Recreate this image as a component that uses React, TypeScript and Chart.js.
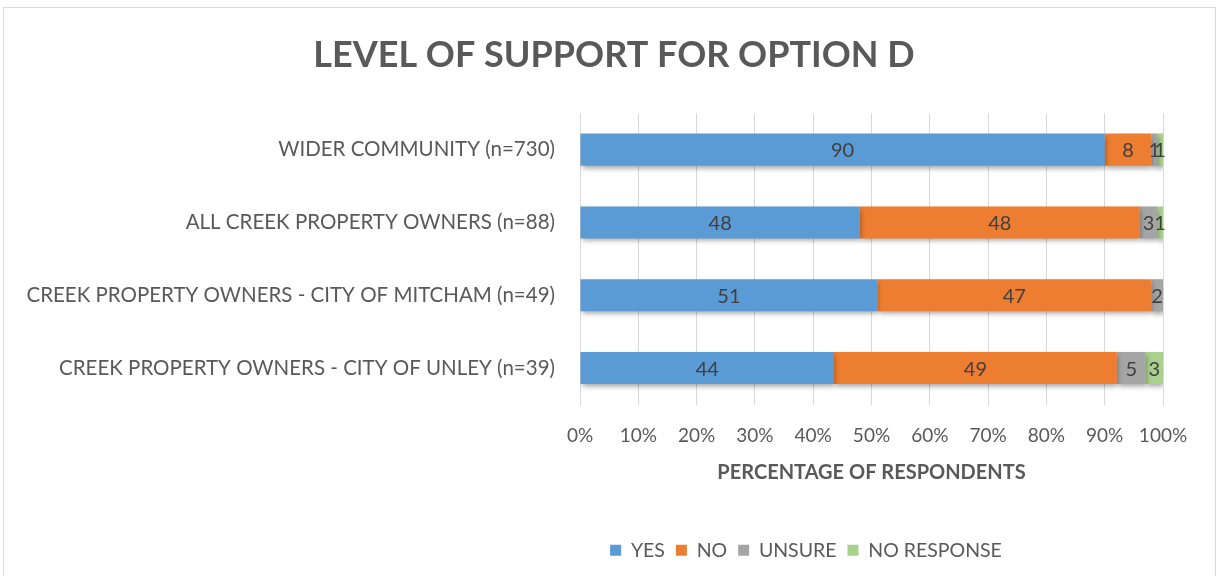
import React, { useEffect, useRef } from "react";
import { Chart, registerables } from "chart.js";

Chart.register(...registerables);

const categories = [
  "WIDER COMMUNITY (n=730)",
  "ALL CREEK PROPERTY OWNERS (n=88)",
  "CREEK PROPERTY OWNERS - CITY OF MITCHAM (n=49)",
  "CREEK PROPERTY OWNERS - CITY OF UNLEY (n=39)",
];
const seriesNames = ["YES", "NO", "UNSURE", "NO RESPONSE"];
const yesValues = [90, 48, 51, 44];
const noValues = [8, 48, 47, 49];
const unsureValues = [1, 3, 2, 5];
const noResponseValues = [1, 1, 0, 3];
const xTickValues = [0, 10, 20, 30, 40, 50, 60, 70, 80, 90, 100];

const seriesColors = ["#5b9bd5", "#ed7d31", "#a5a5a5", "#a9d18e"];
const FONT = "Lato, 'Open Sans', sans-serif";
const TEXT = "#595959";

export default function App() {
  const canvasRef = useRef<HTMLCanvasElement | null>(null);

  useEffect(() => {
    document.body.style.margin = "0";
    const raw = [yesValues, noValues, unsureValues, noResponseValues];
    const totals = categories.map((_, j) => raw.reduce((s, arr) => s + arr[j], 0));
    const normalized = raw.map((arr) => arr.map((v, j) => (v / totals[j]) * 100));

    const shadowPlugin = {
      id: "barShadow",
      beforeDatasetsDraw(chart: any) {
        const c = chart.ctx;
        c.save();
        c.shadowColor = "rgba(0,0,0,0.35)";
        c.shadowBlur = 5;
        c.shadowOffsetX = 1;
        c.shadowOffsetY = 3;
      },
      afterDatasetsDraw(chart: any) {
        chart.ctx.restore();
      },
    };

    const labelPlugin = {
      id: "valueLabels",
      afterDraw(chart: any) {
        const c = chart.ctx;
        c.save();
        c.font = `20px ${FONT}`;
        c.fillStyle = "#404040";
        c.textAlign = "center";
        c.textBaseline = "middle";
        chart.data.datasets.forEach((_: any, i: number) => {
          const meta = chart.getDatasetMeta(i);
          meta.data.forEach((bar: any, j: number) => {
            const v = raw[i][j];
            if (!v) return;
            const p = bar.getProps(["x", "y", "base"], true);
            c.fillText(String(v), (p.x + p.base) / 2, p.y + 1);
          });
        });
        c.restore();
      },
    };

    const shiftBlocks = {
      id: "shiftBlocks",
      afterLayout(chart: any) {
        if (chart.legend) {
          chart.legend.left = 2 * 806 - chart.legend.right;
        }
        if (chart.titleBlock) {
          chart.titleBlock.left = 2 * 614 - chart.titleBlock.right;
        }
      },
    };

    const chart = new Chart(canvasRef.current as HTMLCanvasElement, {
      type: "bar",
      data: {
        labels: categories,
        datasets: seriesNames.map((name, i) => ({
          label: name,
          data: normalized[i],
          backgroundColor: seriesColors[i],
          borderWidth: 0,
          barPercentage: 0.44,
          categoryPercentage: 1,
        })),
      },
      options: {
        indexAxis: "y",
        animation: false,
        responsive: false,
        maintainAspectRatio: false,
        layout: { padding: { top: 14, left: 10, right: 56, bottom: 6 } },
        plugins: {
          title: {
            display: true,
            text: "LEVEL OF SUPPORT FOR OPTION D",
            color: TEXT,
            font: { family: FONT, size: 36, weight: "bold" },
            padding: { top: 20, bottom: 36 },
          },
          legend: {
            position: "bottom",
            labels: {
              color: TEXT,
              font: { family: FONT, size: 19.5 },
              boxWidth: 11,
              boxHeight: 11,
              padding: 11,
            },
          },
          tooltip: { enabled: false },
        },
        scales: {
          x: {
            stacked: true,
            min: 0,
            max: 100,
            afterBuildTicks(scale: any) {
              scale.ticks = xTickValues.map((v) => ({ value: v }));
            },
            afterFit(scale: any) {
              scale.height = 125;
            },
            ticks: {
              color: TEXT,
              font: { family: FONT, size: 19 },
              padding: 20,
              callback: (v: any) => `${v}%`,
            },
            grid: { color: "#d9d9d9", lineWidth: 1, drawTicks: false },
            border: { display: false },
            title: {
              display: true,
              text: "PERCENTAGE OF RESPONDENTS",
              color: TEXT,
              font: { family: FONT, size: 20, weight: "bold" },
              padding: { top: 0, bottom: 45 },
            },
          },
          y: {
            stacked: true,
            afterFit(scale: any) {
              scale.width = 570;
            },
            ticks: {
              color: TEXT,
              font: { family: FONT, size: 20.5 },
              padding: 17,
            },
            grid: { display: false },
            border: { display: false },
          },
        },
      },
      plugins: [shadowPlugin, labelPlugin, shiftBlocks],
    });
    return () => chart.destroy();
  }, []);

  return (
    <div style={{ position: "relative", width: 1219, height: 576, overflow: "hidden", background: "#fff" }}>
      <div
        style={{
          position: "absolute",
          left: 3,
          top: 7,
          width: 1213,
          height: 600,
          border: "1px solid #d9d9d9",
          boxSizing: "border-box",
        }}
      />
      <canvas ref={canvasRef} width={1219} height={576} style={{ position: "absolute", left: 0, top: 0, display: "block" }} />
    </div>
  );
}
